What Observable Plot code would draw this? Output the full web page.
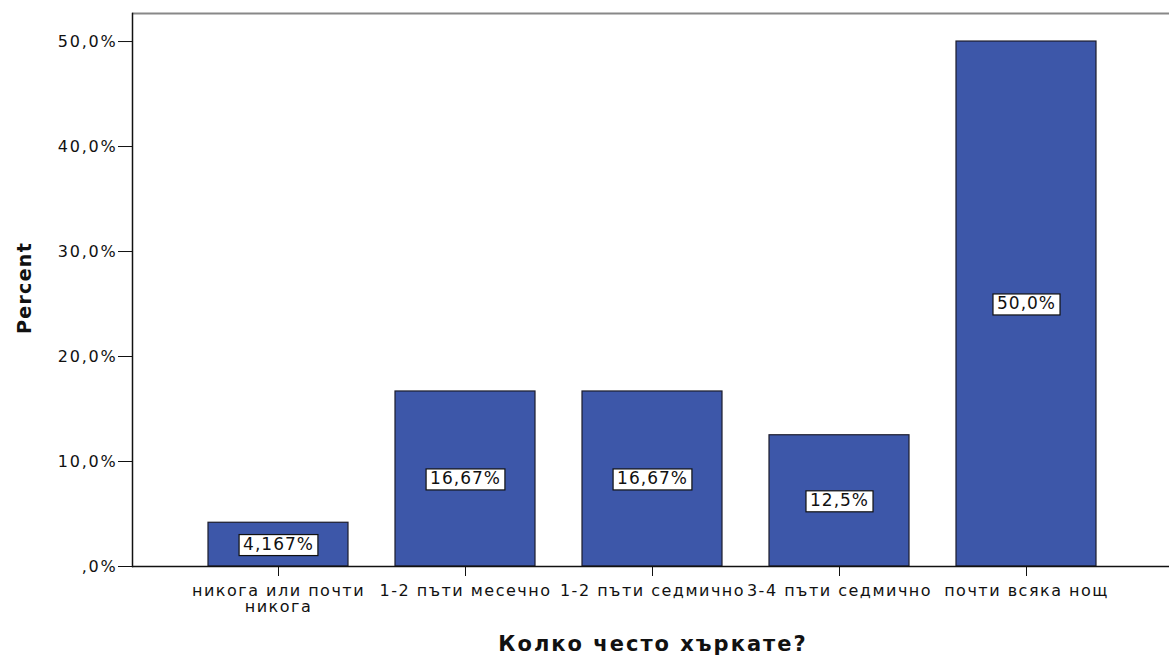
<!DOCTYPE html>
<html>
<head>
<meta charset="utf-8">
<script src="https://cdn.jsdelivr.net/npm/d3@7"></script>
<script src="https://cdn.jsdelivr.net/npm/@observablehq/plot@0.6"></script>
<style>
  html, body { margin: 0; padding: 0; background: #fff; }
  #chart svg { display: block; }
  g[aria-label="x-axis tick label"] { letter-spacing: 1.5px; }
  g[aria-label="y-axis tick label"] { letter-spacing: 1.8px; }
  g[aria-description="xtitle"] { letter-spacing: 2px; }
  g[aria-description="ytitle"] { letter-spacing: 1.3px; }
</style>
</head>
<body>
<div id="chart"></div>
<script>
const categories = ["никога или почти\nникога", "1-2 пъти месечно", "1-2 пъти седмично", "3-4 пъти седмично", "почти всяка нощ"];
const percents = [4.167, 16.67, 16.67, 12.5, 50.0];
const valueLabels = ["4,167%", "16,67%", "16,67%", "12,5%", "50,0%"];
const yTicks = [0, 10, 20, 30, 40, 50];
const yTickLabels = [",0%", "10,0%", "20,0%", "30,0%", "40,0%", "50,0%"];
const xTitle = "Колко често хъркате?";
const yTitle = "Percent";

const data = categories.map((c, i) => ({cat: c, pct: percents[i], label: valueLabels[i]}));

const font = "DejaVu Sans, sans-serif";
const plot = Plot.plot({
  width: 1169,
  height: 660,
  marginLeft: 132,
  marginRight: 0,
  marginTop: 13,
  marginBottom: 94,
  style: {fontFamily: font, fontSize: "16px", color: "#111", background: "#fff", letterSpacing: "1px"},
  x: {domain: categories, paddingInner: 0.25, paddingOuter: 0, insetLeft: 75, insetRight: 71, label: null},
  y: {domain: [0, 52.67], label: null},
  marks: [
    Plot.ruleY([52.67], {stroke: "#888", strokeWidth: 2}),
    Plot.barY(data, {x: "cat", y: "pct", fill: "#3d57a9", stroke: "#1c1c2c", strokeWidth: 1.2}),
    Plot.axisX({tickSize: 10, tickPadding: 8, lineHeight: 1, fontSize: 16, stroke: "#111"}),
    Plot.axisY({ticks: yTicks, tickFormat: (d) => yTickLabels[yTicks.indexOf(d)], tickSize: 14, tickPadding: 1, fontSize: 16, stroke: "#111"}),
    Plot.ruleY([0], {stroke: "#111", strokeWidth: 1.5}),
    Plot.frame({anchor: "left", stroke: "#111", strokeWidth: 1.5}),
    Plot.text(data, {x: "cat", y: (d) => d.pct / 2, text: "label", fill: "#111", fontSize: 17, ariaDescription: "vlabels"}),
    Plot.text([yTitle], {frameAnchor: "left", rotate: -90, textAnchor: "middle", dx: -108, dy: -2, fontWeight: "bold", fontSize: 19, fill: "#111", ariaDescription: "ytitle"}),
    Plot.text([xTitle], {frameAnchor: "bottom", lineAnchor: "middle", textAnchor: "middle", dx: 2, dy: 78, fontWeight: "bold", fontSize: 21, fill: "#111", ariaDescription: "xtitle"})
  ]
});
document.getElementById("chart").appendChild(plot);

// white boxes behind the value labels
plot.querySelectorAll('g[aria-description="vlabels"] text').forEach((t) => {
  const b = t.getBBox();
  const r = document.createElementNS("http://www.w3.org/2000/svg", "rect");
  r.setAttribute("x", b.x - 4);
  r.setAttribute("y", b.y + 0.5);
  r.setAttribute("width", b.width + 8);
  r.setAttribute("height", b.height + 1);
  r.setAttribute("fill", "#fff");
  r.setAttribute("stroke", "#111");
  r.setAttribute("stroke-width", "1.2");
  if (t.getAttribute("transform")) r.setAttribute("transform", t.getAttribute("transform"));
  t.parentNode.insertBefore(r, t);
});
</script>
</body>
</html>
